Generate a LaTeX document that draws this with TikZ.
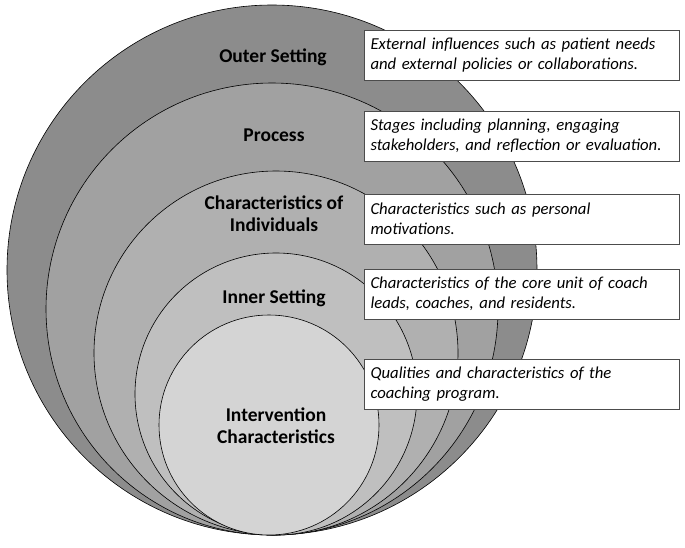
\documentclass[tikz,border=0pt]{standalone}
\usepackage{fontspec}
\setmainfont{Carlito}
\usetikzlibrary{positioning}
\tikzset{
  ring/.style={draw=black, line width=0.6pt},
  title/.style={font=\fontsize{19.5}{22}\selectfont\bfseries, align=center},
  note/.style={draw=black!70, fill=white, line width=0.6pt, minimum width=315pt,
    minimum height=50pt, text width=303pt, align=left, inner sep=6pt,
    font=\fontsize{16.7}{20.5}\selectfont\itshape}
}
\begin{document}
\begin{tikzpicture}[x=1pt,y=-1pt]
    \useasboundingbox (0,0) rectangle (685,547);

    % Nested circles, all touching at the bottom
    \filldraw[ring, fill=black!45] (272,270) circle (265);
    \filldraw[ring, fill=black!37] (272,309) circle (226);
    \filldraw[ring, fill=black!31] (276,353) circle (182);
    \filldraw[ring, fill=black!25] (276,394) circle (141);
    \filldraw[ring, fill=black!17] (269,425) circle (110);

    % Labels of the circles
    \node[title] (outer) at (273,57) {Outer Setting};
    \node[title] (proc) at (274,135) {Process};
    \node[title] (indiv) at (274,214) {Characteristics of\\Individuals};
    \node[title] (inner) at (274,298) {Inner Setting};
    \node[title] (interv) at (276,426) {Intervention\\Characteristics};

    % Notes
    \node[note] (n1) at (522,55) {External influences such as patient needs\\and external policies or collaborations.};
    \node[note] (n2) at (522,136) {Stages including planning, engaging\\stakeholders, and reflection or evaluation.};
    \node[note] (n3) at (522,219) {Characteristics such as personal\\motivations.};
    \node[note] (n4) at (522,294) {Characteristics of the core unit of coach\\leads, coaches, and residents.};
    \node[note] (n5) at (522,384) {Qualities and characteristics of the\\coaching program.};
\end{tikzpicture}
\end{document}
